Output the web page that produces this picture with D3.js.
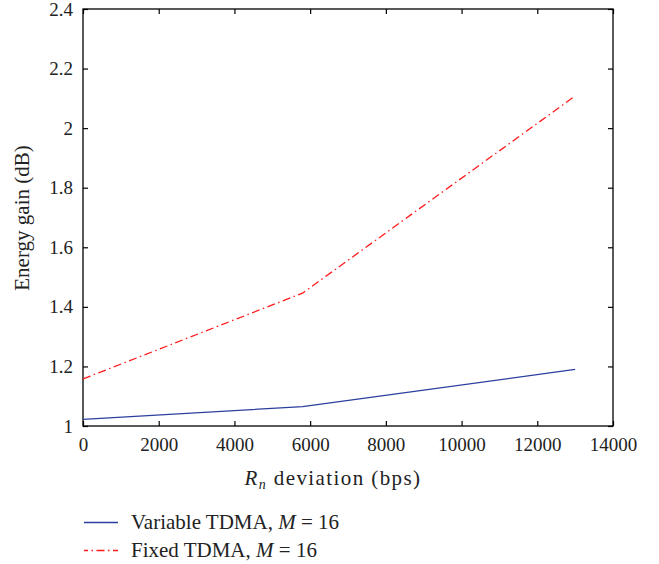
<!DOCTYPE html>
<html>
<head>
<meta charset="utf-8">
<script src="https://cdn.jsdelivr.net/npm/d3@7"></script>
<style>
  body { margin: 0; background: #fff; }
  text { font-family: "Liberation Serif", "DejaVu Serif", serif; fill: #222; }
</style>
</head>
<body>
<script>
// data
var deviation = [0, 5800, 13000];
var variableTDMA = [1.022, 1.065, 1.190];
var fixedTDMA = [1.158, 1.446, 2.108];
var xTicks = [0, 2000, 4000, 6000, 8000, 10000, 12000, 14000];
var yTicks = [1, 1.2, 1.4, 1.6, 1.8, 2, 2.2, 2.4];

var width = 659, height = 564;
var padL = 83, padR = 613, padT = 9, padB = 426;
var fs = 19, fsLabel = 21;

var svg = d3.select("body").append("svg")
  .attr("width", width)
  .attr("height", height);

var xScale = d3.scaleLinear().domain([0, 14000]).range([padL, padR]);
var yScale = d3.scaleLinear().domain([1, 2.4]).range([padB, padT]);

// axes, ticks inward on all four sides
var xAxis = d3.axisBottom(xScale).tickValues(xTicks).tickSizeInner(-5).tickSizeOuter(0).tickPadding(12)
  .tickFormat(d3.format("d"));
var yAxis = d3.axisLeft(yScale).tickValues(yTicks).tickSizeInner(-5).tickSizeOuter(0).tickPadding(10)
  .tickFormat(function(d) { return d3.format("~g")(d) });

svg.append("g").attr("transform", "translate(0," + padB + ")").call(xAxis);
svg.append("g").attr("transform", "translate(" + padL + ",0)").call(yAxis);
svg.append("g").attr("transform", "translate(0," + padT + ")")
  .call(d3.axisTop(xScale).tickValues(xTicks).tickSizeInner(-5).tickSizeOuter(0).tickFormat(""));
svg.append("g").attr("transform", "translate(" + padR + ",0)")
  .call(d3.axisRight(yScale).tickValues(yTicks).tickSizeInner(-5).tickSizeOuter(0).tickFormat(""));

svg.selectAll(".domain").remove();
svg.selectAll(".tick line").attr("stroke", "#000").attr("stroke-width", 1.2);
svg.selectAll(".tick text").attr("font-size", fs).attr("fill", "#222")
  .style("font-family", "'Liberation Serif', serif");

svg.append("rect")
  .attr("x", padL).attr("y", padT)
  .attr("width", padR - padL).attr("height", padB - padT)
  .attr("fill", "none").attr("stroke", "#000").attr("stroke-width", 1.3);

var line = d3.line()
  .x(function(d) { return xScale(d[0]) })
  .y(function(d) { return yScale(d[1]) });

svg.append("path")
  .datum(deviation.map(function(d, i) { return [d, variableTDMA[i]] }))
  .attr("d", line)
  .attr("fill", "none")
  .attr("stroke", "#2b3f9e")
  .attr("stroke-width", 1.3);

svg.append("path")
  .datum(deviation.map(function(d, i) { return [d, fixedTDMA[i]] }))
  .attr("d", line)
  .attr("fill", "none")
  .attr("stroke", "#ff1a1a")
  .attr("stroke-width", 1.3)
  .attr("stroke-dasharray", "8,3.5,1.5,3.5");

// axis labels
var xl = svg.append("text")
  .attr("x", 333).attr("y", 485)
  .attr("text-anchor", "middle")
  .attr("font-size", fsLabel)
  .attr("letter-spacing", 1.4);
xl.append("tspan").attr("font-style", "italic").text("R");
xl.append("tspan").attr("font-style", "italic").attr("font-size", 14).attr("dy", 4).text("n");
xl.append("tspan").attr("dy", -4).text(" deviation (bps)");

svg.append("text")
  .attr("transform", "translate(29,218) rotate(-90)")
  .attr("text-anchor", "middle")
  .attr("font-size", fsLabel)
  .text("Energy gain (dB)");

// legend
var legend = [
  { name: "Variable TDMA, ", color: "#2b3f9e", dash: null, y: 522.5 },
  { name: "Fixed TDMA, ", color: "#ff1a1a", dash: "8,3.5,1.5,3.5", y: 550.5 }
];
legend.forEach(function(l) {
  svg.append("line")
    .attr("x1", 84).attr("x2", 118)
    .attr("y1", l.y).attr("y2", l.y)
    .attr("stroke", l.color).attr("stroke-width", 1.3)
    .attr("stroke-dasharray", l.dash)
    .attr("stroke-dashoffset", l.dash ? 4 : 0);
  var t = svg.append("text").attr("x", 131).attr("y", l.y + 6).attr("font-size", fsLabel);
  t.append("tspan").text(l.name);
  t.append("tspan").attr("font-style", "italic").text("M");
  t.append("tspan").text(" = 16");
});
</script>
</body>
</html>
